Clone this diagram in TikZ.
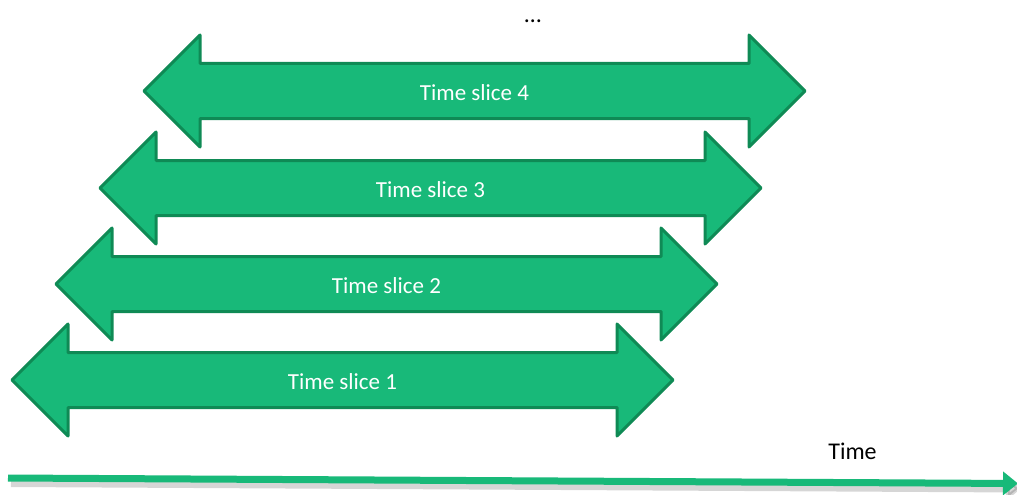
\documentclass[tikz,border=0pt]{standalone}
\usepackage{fontspec}
\setmainfont{Carlito}
\usetikzlibrary{arrows.meta}
\definecolor{slicefill}{HTML}{18B979}
\definecolor{sliceedge}{HTML}{0F8A55}
\tikzset{
  slicearrow/.style={fill=slicefill, draw=sliceedge, line width=3pt, line join=round},
  slicelabel/.style={text=white, font=\fontsize{23}{27}\selectfont, anchor=base, inner sep=0pt},
  axislabel/.style={text=black, font=\fontsize{24}{28}\selectfont, anchor=base, inner sep=0pt},
  axisline/.style={draw=slicefill, line width=7pt, -{Triangle[length=15pt,width=23pt]}},
  axisshadow/.style={draw=black, opacity=0.16, line width=8pt, -{Triangle[length=15pt,width=24pt]}}
}
\begin{document}
\begin{tikzpicture}[x=1pt,y=-1pt]
\useasboundingbox (0,0) rectangle (1017,495);
\foreach \i/\lx/\cy in {1/12/380, 2/56/284, 3/100/188, 4/144/91}{
  \pgfmathsetmacro{\rx}{\lx+661}
  \pgfmathsetmacro{\bl}{\lx+56}
  \pgfmathsetmacro{\br}{\rx-56}
  \pgfmathsetmacro{\cx}{(\lx+\rx)/2}
  \draw[slicearrow] (\lx,\cy) -- (\bl,\cy-56) -- (\bl,\cy-27.5) -- (\br,\cy-27.5) -- (\br,\cy-56)
     -- (\rx,\cy) -- (\br,\cy+56) -- (\br,\cy+27.5) -- (\bl,\cy+27.5) -- (\bl,\cy+56) -- cycle;
  \node[slicelabel] (s\i) at (\cx,\cy+9.5) {Time slice \i};
}
\coordinate (a0) at (8,478);
\coordinate (a1) at (1018,483.5);
\coordinate (sh0) at (11,483);
\coordinate (sh1) at (1021,488.5);
\draw[axisshadow] (sh0) -- (sh1);
\draw[axisline] (a0) -- (a1);
\node[axislabel] (time) at (852.5,459) {Time};
\node[axislabel] (dots) at (533,23) {…};
\end{tikzpicture}
\end{document}
